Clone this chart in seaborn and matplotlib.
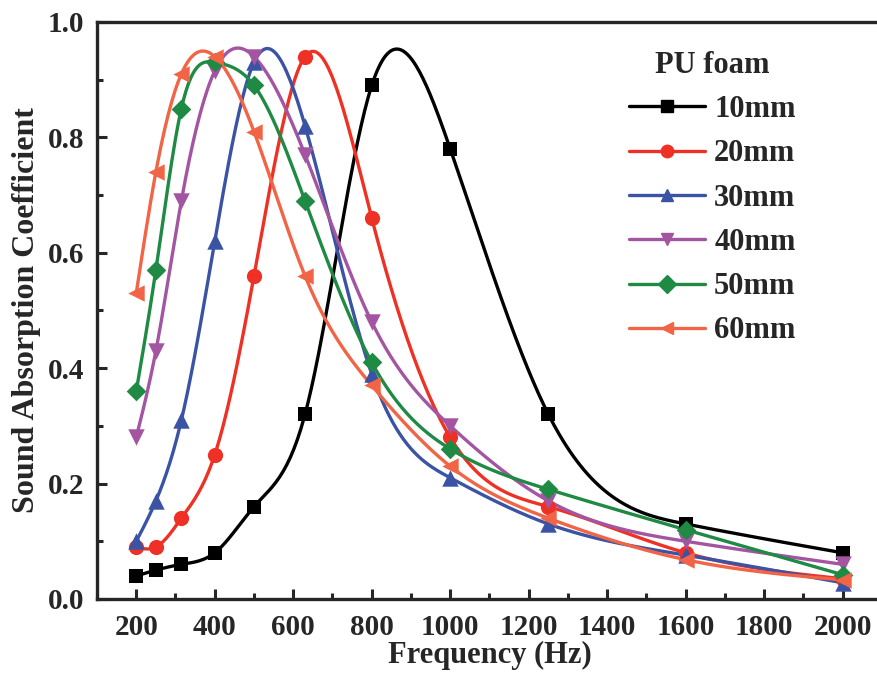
import numpy as np
import matplotlib
matplotlib.use('Agg')
import matplotlib.pyplot as plt
import seaborn as sns
from matplotlib.lines import Line2D
from matplotlib.ticker import MultipleLocator, FormatStrFormatter

# data (1/3 octave band centres)
freq = [200, 250, 315, 400, 500, 630, 800, 1000, 1250, 1600, 2000]

alpha_10mm = [0.04, 0.05, 0.06, 0.08, 0.16, 0.32, 0.89, 0.78, 0.32, 0.13, 0.08]
alpha_20mm = [0.09, 0.09, 0.14, 0.25, 0.56, 0.94, 0.66, 0.28, 0.16, 0.08, 0.035]
alpha_30mm = [0.10, 0.17, 0.31, 0.62, 0.93, 0.82, 0.39, 0.21, 0.13, 0.076, 0.028]
alpha_40mm = [0.28, 0.43, 0.69, 0.915, 0.94, 0.77, 0.48, 0.30, 0.17, 0.10, 0.06]
alpha_50mm = [0.36, 0.57, 0.85, 0.93, 0.89, 0.69, 0.41, 0.26, 0.19, 0.12, 0.042]
alpha_60mm = [0.53, 0.74, 0.91, 0.94, 0.81, 0.56, 0.37, 0.23, 0.14, 0.068, 0.033]

labels = ['10mm', '20mm', '30mm', '40mm', '50mm', '60mm']
series = [alpha_10mm, alpha_20mm, alpha_30mm, alpha_40mm, alpha_50mm, alpha_60mm]
colors = ['#000000', '#EE3124', '#3A53A4', '#A455A2', '#1F8A43', '#F26446']
markers = ['s', 'o', '^', 'v', 'D', '<']
sizes = [90, 120, 140, 140, 100, 140]


def natural_spline(x, y, n=400):
    # natural cubic spline, only used to draw the smooth connecting line
    x = np.asarray(x, float)
    y = np.asarray(y, float)
    k = len(x)
    h = np.diff(x)
    A = np.zeros((k, k))
    b = np.zeros(k)
    A[0, 0] = A[-1, -1] = 1
    for i in range(1, k - 1):
        A[i, i - 1] = h[i - 1]
        A[i, i] = 2 * (h[i - 1] + h[i])
        A[i, i + 1] = h[i]
        b[i] = 6 * ((y[i + 1] - y[i]) / h[i] - (y[i] - y[i - 1]) / h[i - 1])
    m = np.linalg.solve(A, b)
    xs = np.linspace(x[0], x[-1], n)
    idx = np.clip(np.searchsorted(x, xs) - 1, 0, k - 2)
    x0, x1 = x[idx], x[idx + 1]
    hh = x1 - x0
    t0, t1 = x1 - xs, xs - x0
    ys = (m[idx] * t0 ** 3 + m[idx + 1] * t1 ** 3) / (6 * hh) \
        + (y[idx] / hh - m[idx] * hh / 6) * t0 \
        + (y[idx + 1] / hh - m[idx + 1] * hh / 6) * t1
    return xs, ys


sns.set_style('ticks')
plt.rcParams['font.family'] = ['Liberation Serif', 'DejaVu Serif']
plt.rcParams['font.weight'] = 'bold'

fig = plt.figure(figsize=(8.77, 6.74), dpi=100)
ax = fig.add_axes([0.1106, 0.1113, 0.8951, 0.8561])

for vals, color, marker, size in zip(series, colors, markers, sizes):
    xs, ys = natural_spline(freq, vals)
    sns.lineplot(x=xs, y=ys, color=color, linewidth=2.4, sort=False, ax=ax)
    sns.scatterplot(x=freq, y=vals, marker=marker, color=color, s=size,
                    edgecolor=color, linewidth=0, zorder=3, ax=ax)

ax.set_xlim(100, 2100)
ax.set_ylim(0, 1.0)
ax.xaxis.set_major_locator(MultipleLocator(200))
ax.xaxis.set_minor_locator(MultipleLocator(100))
ax.yaxis.set_major_locator(MultipleLocator(0.2))
ax.yaxis.set_minor_locator(MultipleLocator(0.1))
ax.yaxis.set_major_formatter(FormatStrFormatter('%.1f'))
ax.tick_params(which='major', direction='in', length=7, width=2.2, labelsize=21, pad=9)
ax.tick_params(axis='x', which='major', pad=11)
ax.tick_params(which='minor', direction='in', length=4, width=2.2)
for sp in ax.spines.values():
    sp.set_linewidth(2.4)

ax.set_xlabel('Frequency (Hz)', fontsize=22, fontweight='bold', labelpad=0)
ax.set_ylabel('Sound Absorption Coefficient', fontsize=23, fontweight='bold', labelpad=5)

handles = [Line2D([], [], color=c, marker=m, markersize=9, linewidth=2.4)
           for c, m in zip(colors, markers)]
leg = ax.legend(handles, labels, title='PU foam', loc='upper right',
                bbox_to_anchor=(0.89, 0.95), frameon=False, fontsize=22,
                title_fontsize=22, handlelength=2.5, labelspacing=0.5,
                handletextpad=0.3, borderpad=0, borderaxespad=0)
leg.get_title().set_fontweight('bold')

fig.savefig('out.png', dpi=100)
plt.close(fig)
